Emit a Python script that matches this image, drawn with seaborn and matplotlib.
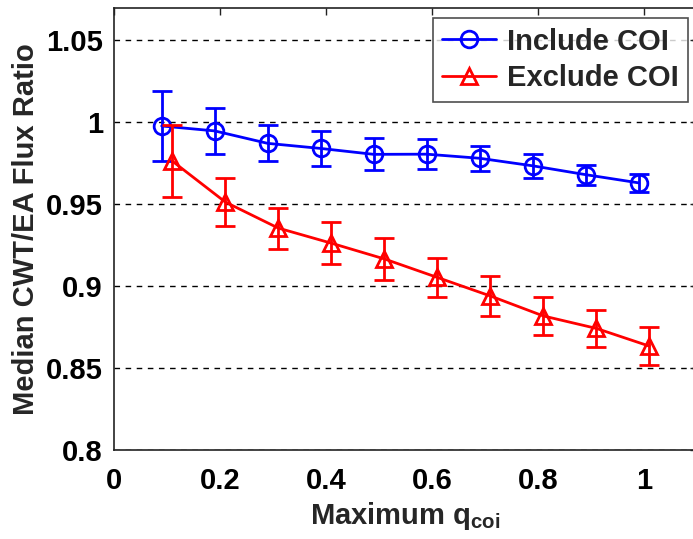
import numpy as np
import pandas as pd
import matplotlib
matplotlib.use("Agg")
import matplotlib.pyplot as plt
import seaborn as sns

# Median CWT/EA flux ratio against the maximum q_coi threshold
q_include = [0.09, 0.19, 0.29, 0.39, 0.49, 0.59, 0.69, 0.79, 0.89, 0.99]
ratio_include = [0.9977, 0.9947, 0.9871, 0.9840, 0.9804, 0.9805, 0.9780, 0.9734, 0.9680, 0.9630]
err_include = [0.0212, 0.0138, 0.0110, 0.0107, 0.0097, 0.0090, 0.0075, 0.0073, 0.0062, 0.0053]

q_exclude = [0.11, 0.21, 0.31, 0.41, 0.51, 0.61, 0.71, 0.81, 0.91, 1.01]
ratio_exclude = [0.9763, 0.9513, 0.9354, 0.9262, 0.9166, 0.9053, 0.8940, 0.8818, 0.8742, 0.8634]
err_exclude = [0.0222, 0.0148, 0.0125, 0.0127, 0.0126, 0.0118, 0.0120, 0.0116, 0.0115, 0.0115]

series_names = ["Include COI", "Exclude COI"]
x_ticks = [0, 0.2, 0.4, 0.6, 0.8, 1]
x_tick_labels = ["0", "0.2", "0.4", "0.6", "0.8", "1"]
y_ticks = [0.8, 0.85, 0.9, 0.95, 1.0, 1.05]
y_tick_labels = ["0.8", "0.85", "0.9", "0.95", "1", "1.05"]

sns.set_theme(style="white")
plt.rcParams["font.family"] = ["Liberation Sans", "DejaVu Sans"]
plt.rcParams["font.weight"] = "bold"
plt.rcParams["mathtext.fontset"] = "custom"
plt.rcParams["mathtext.rm"] = "Liberation Sans:bold"
plt.rcParams["mathtext.it"] = "Liberation Sans:bold"
plt.rcParams["mathtext.bf"] = "Liberation Sans:bold"

df = pd.concat([
    pd.DataFrame({"q": q_include, "ratio": ratio_include, "err": err_include, "series": series_names[0]}),
    pd.DataFrame({"q": q_exclude, "ratio": ratio_exclude, "err": err_exclude, "series": series_names[1]}),
], ignore_index=True)

fig = plt.figure(figsize=(6.93, 5.39), dpi=100)
ax = fig.add_axes([114 / 693, 89 / 539, 583 / 693, 442.5 / 539])

colors = {"Include COI": "#0000ff", "Exclude COI": "#ff0000"}
markers = {"Include COI": "o", "Exclude COI": "^"}

for name in series_names:
    sub = df[df["series"] == name]
    ax.errorbar(sub["q"], sub["ratio"], yerr=sub["err"], fmt="none",
                ecolor=colors[name], elinewidth=2.0, capsize=7, capthick=2.0, zorder=3)
    sns.lineplot(data=sub, x="q", y="ratio", ax=ax, color=colors[name],
                 marker=markers[name], markersize=12, markerfacecolor="none",
                 markeredgecolor=colors[name], markeredgewidth=2.0,
                 linewidth=2.0, label=name, zorder=3)

ax.set_xlim(0, 1.1)
ax.set_ylim(0.8, 1.07)
ax.set_xticks(x_ticks)
ax.set_xticklabels(x_tick_labels)
ax.set_yticks(y_ticks)
ax.set_yticklabels(y_tick_labels)
ax.tick_params(axis="both", direction="in", length=5, width=1, colors="#222222",
               labelcolor="black", labelsize=21, top=True, right=True)
ax.tick_params(axis="x", pad=12)
ax.tick_params(axis="y", pad=8)
for lab in ax.get_xticklabels() + ax.get_yticklabels():
    lab.set_fontweight("bold")

ax.yaxis.grid(True, linestyle=(0, (4, 4)), color="black", linewidth=1.0)
ax.xaxis.grid(False)
for sp in ax.spines.values():
    sp.set_color("#222222")
    sp.set_linewidth(1.2)

ax.set_xlabel(r"Maximum q$_{\mathrm{coi}}$", fontsize=21, fontweight="bold", labelpad=4)
ax.set_ylabel("Median CWT/EA Flux Ratio", fontsize=21, fontweight="bold", labelpad=4)

leg = ax.legend(loc="upper right", bbox_to_anchor=(688 / 693, 1 - 18 / 539),
                bbox_transform=fig.transFigure, frameon=True, fancybox=False,
                fontsize=21, handlelength=1.85, handletextpad=0.35,
                borderpad=0.33, labelspacing=0.3, borderaxespad=0)
leg.get_frame().set_edgecolor("#222222")
leg.get_frame().set_linewidth(1.2)
for t in leg.get_texts():
    t.set_fontweight("bold")

fig.savefig("out.png", dpi=100)
